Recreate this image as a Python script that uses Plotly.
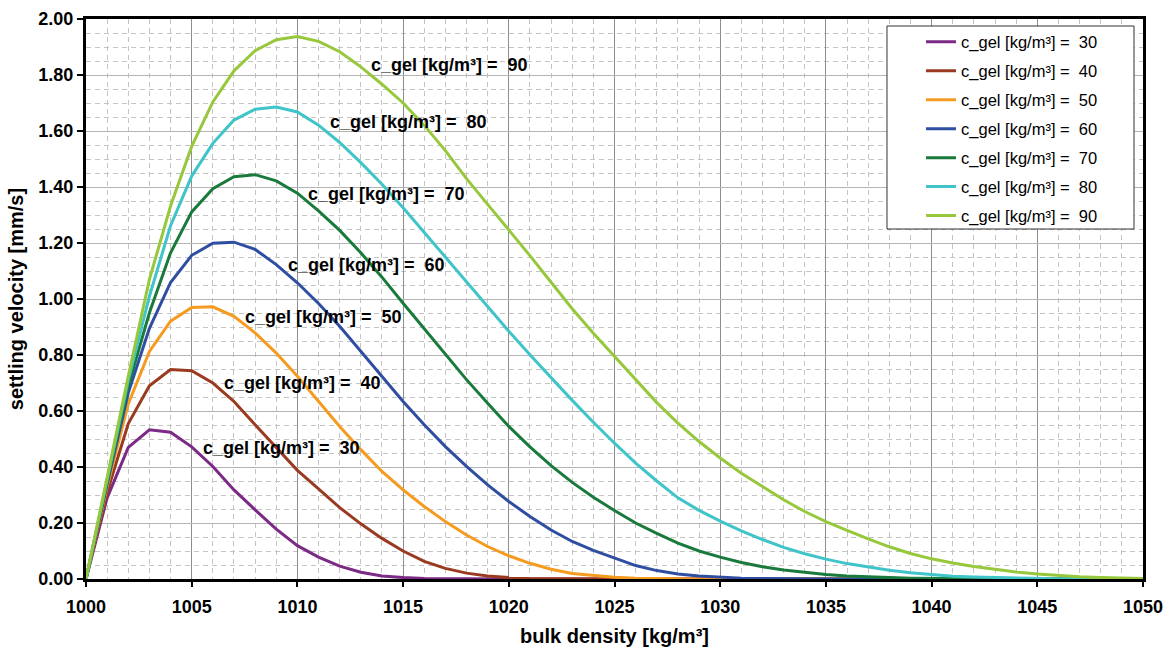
import plotly.graph_objects as go

# bulk density [kg/m³]
density = list(range(1000, 1051))

# settling velocity [mm/s] for each gel concentration
v_30 = [0, 0.29, 0.47, 0.533, 0.524, 0.472, 0.402, 0.318, 0.247, 0.178,
        0.119, 0.078, 0.046, 0.024, 0.011, 0.005, 0.002, 0.001] + [0] * 33
v_40 = [0, 0.31, 0.555, 0.690, 0.748, 0.744, 0.700, 0.634, 0.551, 0.468,
        0.388, 0.322, 0.255, 0.197, 0.145, 0.100, 0.063, 0.038, 0.021, 0.011,
        0.005, 0.002, 0.001] + [0] * 28
v_50 = [0, 0.33, 0.625, 0.813, 0.921, 0.970, 0.972, 0.938, 0.879, 0.807,
        0.724, 0.636, 0.545, 0.462, 0.384, 0.318, 0.259, 0.205, 0.157, 0.116,
        0.083, 0.056, 0.035, 0.020, 0.012, 0.006, 0.003, 0.0015, 0.0005] + [0] * 22
v_60 = [0, 0.34, 0.665, 0.895, 1.059, 1.156, 1.199, 1.203, 1.177, 1.123,
        1.058, 0.984, 0.903, 0.813, 0.724, 0.634, 0.551, 0.473, 0.402, 0.336,
        0.277, 0.223, 0.175, 0.134, 0.102, 0.074, 0.048, 0.030, 0.018, 0.011,
        0.006, 0.003, 0.002, 0.001] + [0] * 17
v_70 = [0, 0.35, 0.69, 0.951, 1.165, 1.311, 1.394, 1.437, 1.444, 1.422,
        1.378, 1.315, 1.245, 1.165, 1.078, 0.985, 0.893, 0.801, 0.712, 0.628,
        0.545, 0.472, 0.405, 0.345, 0.292, 0.245, 0.200, 0.163, 0.128, 0.100,
        0.078, 0.059, 0.044, 0.032, 0.023, 0.016, 0.011, 0.007, 0.005, 0.003,
        0.002, 0.001] + [0] * 9
v_80 = [0, 0.355, 0.71, 1.01, 1.262, 1.439, 1.556, 1.639, 1.678, 1.686,
        1.668, 1.621, 1.559, 1.487, 1.410, 1.326, 1.237, 1.150, 1.062, 0.970,
        0.885, 0.801, 0.718, 0.638, 0.560, 0.485, 0.414, 0.350, 0.290, 0.245,
        0.207, 0.172, 0.141, 0.113, 0.090, 0.071, 0.055, 0.043, 0.031, 0.022,
        0.015, 0.010, 0.007, 0.005, 0.003, 0.002, 0.001, 0.001, 0, 0, 0]
v_90 = [0, 0.36, 0.725, 1.07, 1.332, 1.545, 1.704, 1.815, 1.887, 1.926,
        1.937, 1.920, 1.883, 1.829, 1.767, 1.700, 1.620, 1.530, 1.430, 1.338,
        1.247, 1.155, 1.060, 0.965, 0.878, 0.795, 0.712, 0.630, 0.557, 0.491,
        0.432, 0.378, 0.330, 0.283, 0.241, 0.205, 0.174, 0.143, 0.115, 0.091,
        0.072, 0.057, 0.045, 0.034, 0.025, 0.018, 0.012, 0.008, 0.005, 0.003,
        0.002]

c_gel = [30, 40, 50, 60, 70, 80, 90]
series = [v_30, v_40, v_50, v_60, v_70, v_80, v_90]
colors = ["#7b2a85", "#9a3a20", "#f49b20", "#2f4ea1", "#197a3c", "#3fc4c9", "#97c83c"]

# in-plot label anchors (left edge of text, vertical centre)
label_x = [1005.45, 1006.45, 1007.45, 1009.45, 1010.4, 1011.45, 1013.4]
label_y = [0.469, 0.701, 0.934, 1.120, 1.374, 1.631, 1.835]

x_ticks = list(range(1000, 1051, 5))
y_ticks = [round(0.2 * i, 2) for i in range(11)]

FONT = "Liberation Sans, Arial, sans-serif"
NB = "\u00a0"


def name_for(c):
    return f"c_gel [kg/m³] ={NB}{NB}{c}"


fig = go.Figure()
for c, v, col in zip(c_gel, series, colors):
    fig.add_trace(go.Scatter(
        x=density, y=v, mode="lines", name=name_for(c),
        legendgroup=str(c),
        line=dict(color=col, width=3),
    ))

for c, lx, ly in zip(c_gel, label_x, label_y):
    fig.add_annotation(
        x=lx, y=ly, xref="x", yref="y", text=name_for(c), showarrow=False,
        xanchor="left", yanchor="middle",
        font=dict(family=FONT, size=18, color="black", weight="bold"),
    )

# legend frame
fig.add_shape(
    type="rect", xref="paper", yref="paper",
    x0=0.7578, x1=0.9915, y0=0.625, y1=0.9875,
    fillcolor="white", line=dict(color="#333333", width=1), layer="above",
)

fig.update_layout(
    width=1165, height=653,
    margin=dict(l=86, r=22, t=19, b=74),
    paper_bgcolor="white", plot_bgcolor="white",
    font=dict(family=FONT, color="black"),
    showlegend=True,
    legend=dict(
        x=0.790, y=0.99, xanchor="left", yanchor="top",
        bgcolor="rgba(0,0,0,0)", borderwidth=0,
        font=dict(family=FONT, size=16.5, color="black"),
        tracegroupgap=4.5,
    ),
    xaxis=dict(
        range=[1000, 1050], tickvals=x_ticks,
        ticktext=[str(t) for t in x_ticks],
        automargin=False,
        showline=True, linecolor="black", linewidth=3, mirror=True,
        ticks="outside", ticklen=5, tickwidth=1.5, tickcolor="black",
        showgrid=True, gridcolor="#8e8e8e", gridwidth=1,
        minor=dict(dtick=1, showgrid=True, gridcolor="#c4c4c4",
                   griddash="5px,4px", gridwidth=1),
        zeroline=False,
        tickfont=dict(family=FONT, size=18, color="black", weight="bold"),
        ticklabelstandoff=4,
        title=dict(text="bulk density [kg/m³]", standoff=14,
                   font=dict(family=FONT, size=20, color="black", weight="bold")),
    ),
    yaxis=dict(
        range=[0, 2], tickvals=y_ticks,
        ticktext=[f"{t:.2f}" for t in y_ticks],
        automargin=False,
        showline=True, linecolor="black", linewidth=3, mirror=True,
        ticks="outside", ticklen=6, tickwidth=1.5, tickcolor="black",
        showgrid=True, gridcolor="#b4b4b4", gridwidth=1,
        minor=dict(dtick=0.05, showgrid=True, gridcolor="#c4c4c4",
                   griddash="5px,4px", gridwidth=1),
        zeroline=False,
        tickfont=dict(family=FONT, size=18, color="black", weight="bold"),
        ticklabelstandoff=0,
        title=dict(text="settling velocity [mm/s]", standoff=10,
                   font=dict(family=FONT, size=20, color="black", weight="bold")),
    ),
)

fig.write_html("out.html")
